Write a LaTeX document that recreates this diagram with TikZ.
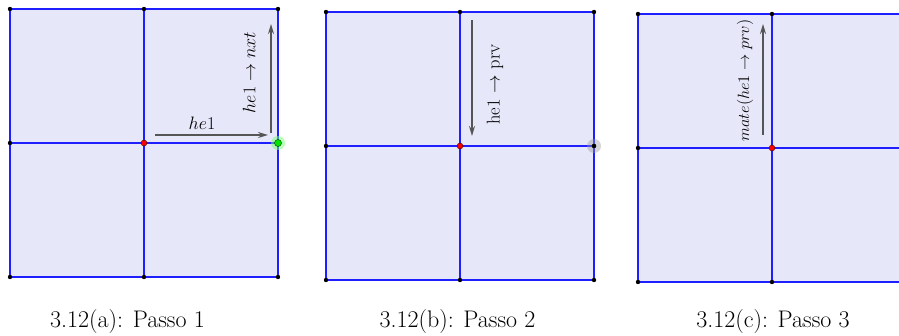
\RequirePackage{fix-cm}
\documentclass[tikz,border=0pt]{standalone}
\usetikzlibrary{arrows.meta}
\definecolor{facefill}{RGB}{231,231,250}
\definecolor{edgeblue}{RGB}{30,30,255}
\definecolor{arrgrey}{RGB}{85,85,85}
\tikzset{
  gridedge/.style={draw=edgeblue, line width=2pt},
  vdot/.style={circle, fill=black, inner sep=0pt, minimum size=4.4pt},
  rdot/.style={circle, fill=red, draw=black!60!red, line width=0.5pt, inner sep=0pt, minimum size=5.8pt},
  gdot/.style={circle, fill=green!90!black, draw=black!70!green, line width=0.5pt, inner sep=0pt, minimum size=7pt},
  halo/.style={circle, inner sep=0pt, minimum size=14pt},
  hearrow/.style={draw=arrgrey, line width=1.5pt, -{Stealth[length=10pt,width=6pt]}},
  lbl/.style={inner sep=0pt, font=\fontsize{18}{21}\selectfont},
  lblb/.style={inner sep=0pt, font=\fontsize{18.5}{22}\selectfont},
  lblsmall/.style={inner sep=0pt, font=\fontsize{16.3}{19}\selectfont},
  capt/.style={inner sep=0pt, anchor=base, font=\fontsize{24}{28}\selectfont},
}
\newcommand\mkpanel[3]{%
  \begin{scope}[shift={(#2,#3)}]
    \coordinate (#1tl) at (0,0);
    \coordinate (#1tm) at (134,0);
    \coordinate (#1tr) at (268,0);
    \coordinate (#1ml) at (0,134);
    \coordinate (#1mm) at (134,134);
    \coordinate (#1mr) at (268,134);
    \coordinate (#1bl) at (0,268);
    \coordinate (#1bm) at (134,268);
    \coordinate (#1br) at (268,268);
    \fill[facefill] (#1tl) rectangle (#1br);
    \draw[gridedge] (#1tl) -- (#1tr) -- (#1br) -- (#1bl) -- cycle;
    \draw[gridedge] (#1tm) -- (#1bm);
    \draw[gridedge] (#1ml) -- (#1mr);
    \foreach \p in {tl,tm,tr,ml,mr,bl,bm,br} \node[vdot] (#1\p dot) at (#1\p) {};
    \node[rdot] (#1c) at (#1mm) {};
  \end{scope}}
\begin{document}
\begin{tikzpicture}[x=1pt,y=-1pt]
  \useasboundingbox (0,0) rectangle (899,336);
  \clip (0,0) rectangle (899,336);
  \fill[white] (0,0) rectangle (899,336);

  % Panel (a)
  \mkpanel{a}{10}{9}
  \node[halo, fill=green!55!white, opacity=0.5] (ahalo) at (amr) {};
  \node[gdot] (agreen) at (amr) {};
  \coordinate (ah1s) at (155,135);
  \coordinate (ah1e) at (268,135);
  \coordinate (anxs) at (271,133);
  \coordinate (anxe) at (271,24);
  \draw[hearrow] (ah1s) -- (ah1e);
  \draw[hearrow] (anxs) -- (anxe);
  \node[lbl] (ahe) at (202,123) {$he1$};
  \node[lbl, rotate=90] (anxt) at (249,72.5) {$he1 \rightarrow nxt$};

  % Panel (b)
  \mkpanel{b}{326}{12}
  \node[halo, fill=black!40, opacity=0.4] (bhalo) at (bmr) {};
  \node[vdot] (bgrey) at (bmr) {};
  \coordinate (bprs) at (472,20);
  \coordinate (bpre) at (472,136);
  \draw[hearrow] (bprs) -- (bpre);
  \node[lblb, rotate=90] (bprv) at (495,84.5) {he1 $\rightarrow$ prv};

  % Panel (c)
  \mkpanel{c}{638}{14}
  \coordinate (cmts) at (763,135);
  \coordinate (cmte) at (763,24);
  \draw[hearrow] (cmts) -- (cmte);
  \node[lblsmall, rotate=90] (cmate) at (745,80.5) {$mate(he1 \rightarrow prv)$};

  % Captions
  \node[capt] (capa) at (127.5,327) {3.12(a): Passo 1};
  \node[capt] (capb) at (457.5,327) {3.12(b): Passo 2};
  \node[capt] (capc) at (773,327) {3.12(c): Passo 3};
\end{tikzpicture}
\end{document}
